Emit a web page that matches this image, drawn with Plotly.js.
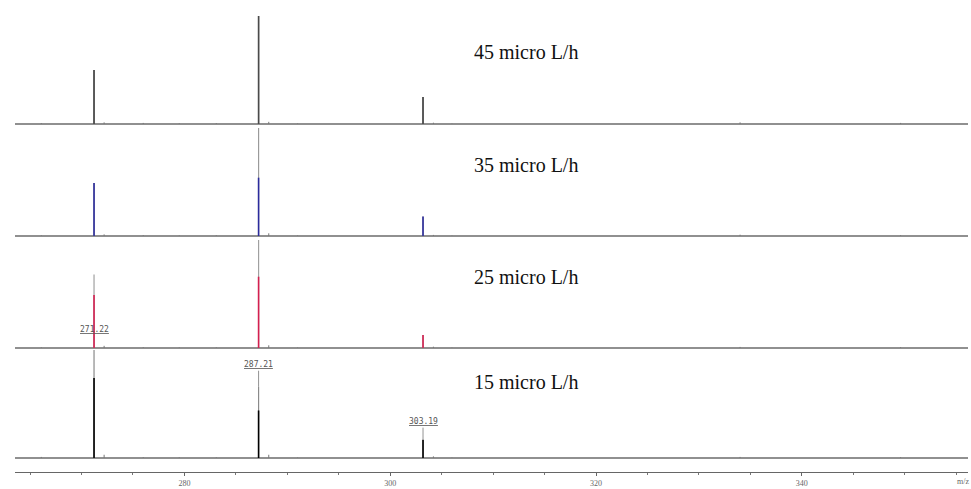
<!DOCTYPE html>
<html>
<head>
<meta charset="utf-8">
<script src="https://cdn.plot.ly/plotly-3.0.1.min.js"></script>
<style>html,body{margin:0;padding:0;background:#fff;}#chart{width:971px;height:489px;}</style>
</head>
<body>
<div id="chart"></div>
<script>
// ---- data ----
const panelNames = ['45 micro L/h', '35 micro L/h', '25 micro L/h', '15 micro L/h'];
const peakMz = [271.22, 287.21, 303.19];
// outer (profile) peak heights, % of panel
const outer45 = [50, 100, 25];
const outer35 = [49, 100, 18];
const outer25 = [68, 100, 12];
const outer15 = [100, 66, 17];
// core (centroid) peak heights, %
const core45 = [50, 100, 25];
const core35 = [49, 54, 18];
const core25 = [49, 66, 12];
const core15 = [74, 44, 17];
// small satellite / noise peaks
const noiseMz = [266.1, 272.2, 276.0, 279.5, 283.1, 288.2, 291.0, 304.2, 306.0, 334.0, 349.6];
const noise45 = [0.8, 1.5, 1.0, 0.6, 0.8, 2.0, 0.5, 1.2, 0.4, 1.5, 1.0];
const noise35 = [0.6, 1.5, 0.8, 0.5, 0.7, 2.5, 0.5, 1.0, 0.4, 1.2, 0.8];
const noise25 = [0.6, 2.0, 0.8, 0.5, 0.6, 2.5, 0.4, 1.2, 0.4, 1.0, 0.8];
const noise15 = [1.0, 3.0, 0.8, 0.6, 0.6, 3.0, 0.4, 1.5, 0.4, 1.0, 0.8];
const peakLabels = ['271.22', '287.21', '303.19'];
const tickVals = [280, 300, 320, 340];

const outers = [outer45, outer35, outer25, outer15];
const cores = [core45, core35, core25, core15];
const noises = [noise45, noise35, noise25, noise15];
const coreColors = ['#4a4a4a', '#2b2b9c', '#d41f4f', '#000000'];
const outerColors = ['#5e5e5e', '#9a9a9a', '#a0a0a0', '#8a8a8a'];

function sticks(xs, ys) {
  const X = [], Y = [];
  xs.forEach((m, i) => { X.push(m, m, null); Y.push(0, ys[i], null); });
  return {X, Y};
}

const traces = [];
const yNames = ['y', 'y2', 'y3', 'y4'];
for (let p = 0; p < 4; p++) {
  const n = sticks(noiseMz, noises[p]);
  traces.push({x: n.X, y: n.Y, yaxis: yNames[p], type: 'scatter', mode: 'lines',
    line: {color: '#777', width: 1}, hoverinfo: 'skip', showlegend: false});
  const o = sticks(peakMz, outers[p]);
  traces.push({x: o.X, y: o.Y, yaxis: yNames[p], type: 'scatter', mode: 'lines',
    line: {color: outerColors[p], width: 1.2}, hoverinfo: 'skip', showlegend: false});
  const c = sticks(peakMz, cores[p]);
  traces.push({x: c.X, y: c.Y, yaxis: yNames[p], type: 'scatter', mode: 'lines',
    line: {color: coreColors[p], width: 1.6}, hoverinfo: 'skip', showlegend: false});
}

const plotH = 472; // pixel height of plot area
const bases = [124, 236, 348, 458];
const panelPx = 108;
const yr = [-1, 100];
function yAxis(p) {
  const lo = (plotH - bases[p] - 1.08) / plotH;
  const hi = (plotH - bases[p] + panelPx) / plotH;
  return {domain: [lo, hi], range: yr, showgrid: false, showticklabels: false, ticks: '',
    zeroline: true, zerolinecolor: '#909090', zerolinewidth: 1.5, showline: false, fixedrange: true};
}

const ann = [];
const titleY = [0.890, 0.650, 0.413, 0.191];
panelNames.forEach((t, p) => ann.push({text: t, xref: 'paper', yref: 'paper', x: 0.4795, y: titleY[p],
  xanchor: 'left', yanchor: 'middle', showarrow: false,
  font: {family: 'Liberation Serif, Times New Roman, serif', size: 20, color: '#111'}}));

const labelFont = {family: 'DejaVu Sans Mono, monospace', size: 8, color: '#555'};
function ul(s) { return '<span style="text-decoration:underline">' + s + '</span>'; }
ann.push({text: ul(peakLabels[0]), xref: 'x', yref: 'y3', x: peakMz[0], y: 17,
  showarrow: false, font: labelFont, yanchor: 'middle'});
ann.push({text: ul(peakLabels[1]), xref: 'x', yref: 'y4', x: peakMz[1], y: outer15[1],
  showarrow: true, arrowhead: 0, arrowwidth: 0.8, arrowcolor: '#777', ax: 0, ay: -16,
  font: labelFont, yanchor: 'bottom'});
ann.push({text: ul(peakLabels[2]), xref: 'x', yref: 'y4', x: peakMz[2], y: outer15[2],
  showarrow: true, arrowhead: 0, arrowwidth: 0.8, arrowcolor: '#777', ax: 0, ay: -12,
  font: labelFont, yanchor: 'bottom'});
ann.push({text: 'm/z', xref: 'paper', yref: 'paper', x: 1.003, y: -0.006, xanchor: 'right', yanchor: 'top',
  showarrow: false, font: {family: 'Liberation Serif, serif', size: 8, color: '#666'}});

const layout = {
  width: 971, height: 489,
  margin: {l: 15, r: 3, t: 0, b: 17, pad: 0},
  paper_bgcolor: '#ffffff', plot_bgcolor: '#ffffff',
  showlegend: false,
  xaxis: {range: [263.54, 356.15], anchor: 'free', position: 0, showgrid: false, zeroline: false,
    showline: true, linecolor: '#666', linewidth: 1,
    tickmode: 'array', tickvals: tickVals, ticks: 'outside', ticklen: 3, tickcolor: '#666', tickwidth: 1,
    minor: {dtick: 5, tick0: 0, ticks: 'outside', ticklen: 2, tickcolor: '#777', showgrid: false},
    tickfont: {family: 'Liberation Serif, serif', size: 8, color: '#666'}, fixedrange: true},
  yaxis: yAxis(0), yaxis2: yAxis(1), yaxis3: yAxis(2), yaxis4: yAxis(3),
  annotations: ann
};
Plotly.newPlot('chart', traces, layout, {staticPlot: true, displayModeBar: false});
</script>
</body>
</html>
